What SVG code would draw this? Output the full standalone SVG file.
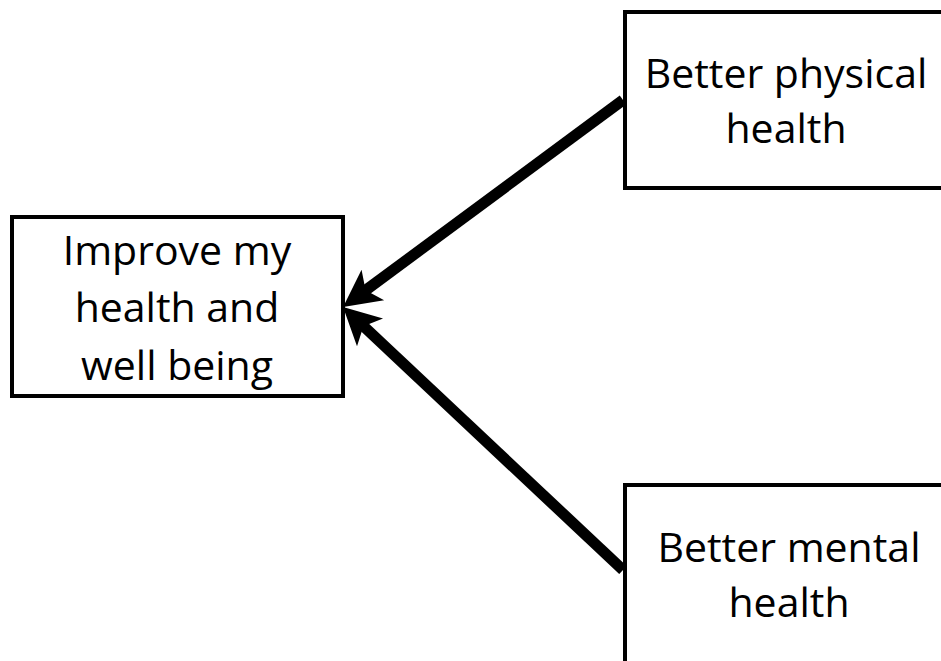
<svg xmlns="http://www.w3.org/2000/svg" width="941" height="661" viewBox="0 0 941 661">
  <style>
    .box { fill: #ffffff; stroke: #000000; stroke-width: 4; }
    .label { font-family: "Open Sans", "Noto Sans", "Liberation Sans", sans-serif; font-size: 41px; fill: #000000; text-anchor: middle; }
    .link { stroke: #000000; stroke-width: 11; fill: none; marker-end: url(#head); }
  </style>
  <defs>
    <marker id="head" markerUnits="userSpaceOnUse" orient="auto" refX="0" refY="0" markerWidth="60" markerHeight="60" overflow="visible">
      <path d="M 26,0 L -11,-19 L -2,0 L -11,19 Z" fill="#000000"/>
    </marker>
  </defs>

  <rect width="941" height="661" fill="#ffffff"/>

  <g id="connectors">
    <line class="link" x1="623" y1="100" x2="364" y2="291.5"/>
    <line class="link" x1="623" y1="570" x2="362" y2="324.8"/>
  </g>

  <g id="node-improve">
    <rect class="box" x="12" y="217" width="331" height="179"/>
    <text class="label" x="177" y="265">Improve my</text>
    <text class="label" x="177" y="322">health and</text>
    <text class="label" x="177" y="380">well being</text>
  </g>

  <g id="node-physical">
    <rect class="box" x="625" y="12" width="330" height="176"/>
    <text class="label" x="786" y="88">Better physical</text>
    <text class="label" x="786" y="143">health</text>
  </g>

  <g id="node-mental">
    <rect class="box" x="625" y="485" width="330" height="190"/>
    <text class="label" x="789" y="562">Better mental</text>
    <text class="label" x="789" y="617">health</text>
  </g>
</svg>
